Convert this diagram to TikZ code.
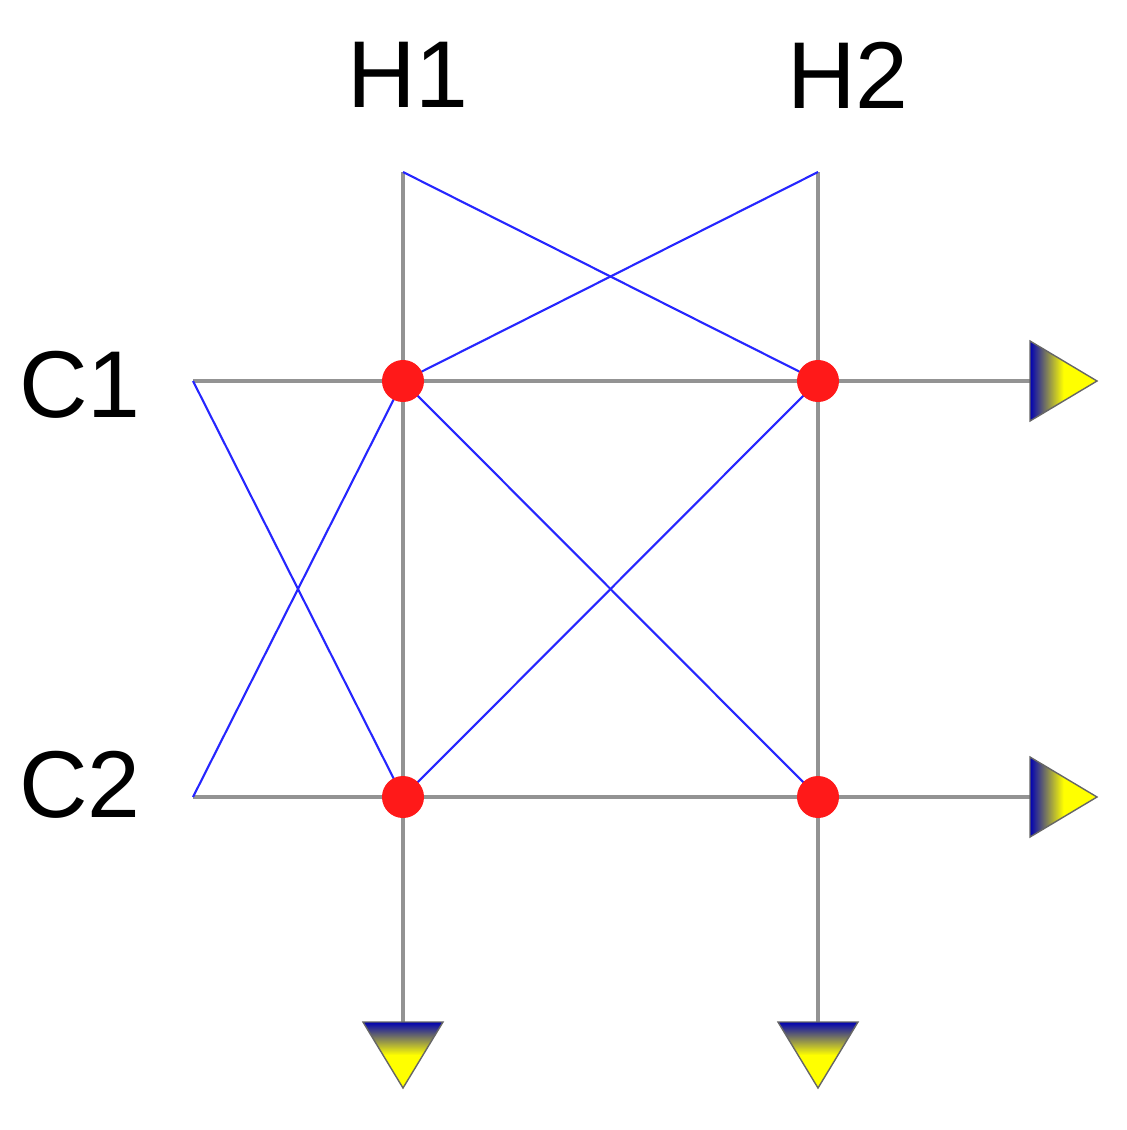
\documentclass[tikz,border=0pt]{standalone}
\usepackage{fontspec}
\setmainfont{Liberation Sans}
\begin{document}
\begin{tikzpicture}[x=0.01cm,y=-0.01cm,
  gray line/.style={draw=gray!85,line width=0.9pt},
  blue line/.style={draw=blue!85!white,line width=0.6pt},
  dot/.style={circle,fill=red!90!white,minimum size=0.42cm,inner sep=0pt},
  lbl/.style={font=\fontsize{27}{30}\selectfont}]
\useasboundingbox (0,0) rectangle (1127,1130);
\coordinate (t1) at (403,172); \coordinate (t2) at (818,172);
\coordinate (l1) at (193,381); \coordinate (l2) at (193,797);
\coordinate (r1) at (1030,381); \coordinate (r2) at (1030,797);
\coordinate (b1) at (403,1022); \coordinate (b2) at (818,1022);
\coordinate (a) at (403,381); \coordinate (b) at (818,381);
\coordinate (c) at (403,797); \coordinate (d) at (818,797);
\draw[gray line] (t1) -- (b1); \draw[gray line] (t2) -- (b2);
\draw[gray line] (l1) -- (r1); \draw[gray line] (l2) -- (r2);
\draw[blue line] (t1) -- (b); \draw[blue line] (t2) -- (a);
\draw[blue line] (l1) -- (c); \draw[blue line] (l2) -- (a);
\draw[blue line] (a) -- (d); \draw[blue line] (c) -- (b);
\node[dot] (A) at (a) {}; \node[dot] (B) at (b) {};
\node[dot] (C) at (c) {}; \node[dot] (D) at (d) {};
\foreach \yy in {381,797}{
  \shade[left color=blue!70!black,right color=yellow,middle color=yellow] (1030,\yy-40) -- (1097,\yy) -- (1030,\yy+40) -- cycle;
  \draw[black!60,line width=0.4pt] (1030,\yy-40) -- (1097,\yy) -- (1030,\yy+40) -- cycle;}
\foreach \xx in {403,818}{
  \shade[top color=blue!70!black,bottom color=yellow,middle color=yellow] (\xx-40,1022) -- (\xx+40,1022) -- (\xx,1088) -- cycle;
  \draw[black!60,line width=0.4pt] (\xx-40,1022) -- (\xx+40,1022) -- (\xx,1088) -- cycle;}
\node[lbl] (H1) at (408,75) {H1};
\node[lbl] (H2) at (848,75) {H2};
\node[lbl] (C1) at (80,385) {C1};
\node[lbl] (C2) at (80,785) {C2};
\end{tikzpicture}
\end{document}
